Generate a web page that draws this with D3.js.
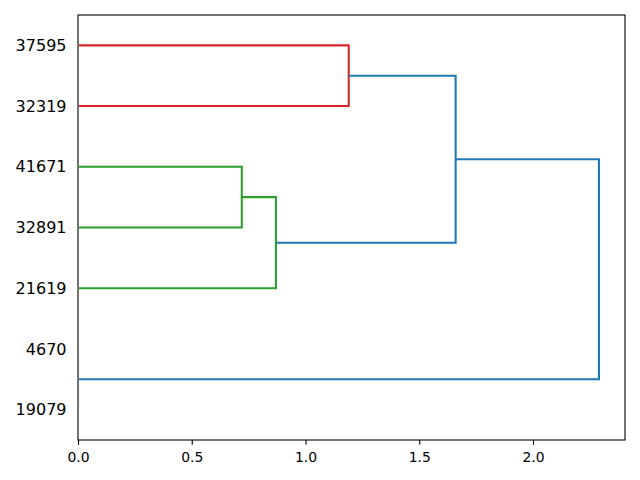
<!DOCTYPE html>
<html><head><meta charset="utf-8">
<script src="https://cdn.jsdelivr.net/npm/d3@7"></script>
<style>body{margin:0;background:#fff}</style>
</head><body>
<svg id="c" width="640" height="480"></svg>
<script>
// leaf labels in dendrogram order (bottom to top)
const leaves = ["19079","4670","21619","32891","41671","32319","37595"];
// merges (scipy linkage style): child A, child B, distance; new cluster ids start at leaves.length
const mergeA = [0, 3, 2, 5, 9, 7];
const mergeB = [1, 4, 8, 6, 10, 11];
const mergeDist = [0.0, 0.72, 0.87, 1.19, 1.66, 2.29];
const mergeColor = ["#1f77b4", "#2ca02c", "#2ca02c", "#d62728", "#1f77b4", "#1f77b4"];
const xTicks = [0, 0.5, 1.0, 1.5, 2.0];

const svg = d3.select("#c");
const L = 78, R = 625, T = 15, B = 440;
const maxD = d3.max(mergeDist);
const x = d3.scaleLinear().domain([0, maxD * 1.05]).range([L, R]);
const y = d3.scaleLinear().domain([0, leaves.length * 10]).range([B, T]);

svg.append("defs").append("clipPath").attr("id", "clip")
  .append("rect").attr("x", L + 1.05).attr("y", T).attr("width", R - L).attr("height", B - T);

// positions
const pos = leaves.map((d, i) => 5 + 10 * i);
const h = leaves.map(() => 0);
mergeA.forEach((a, k) => {
  pos.push((pos[a] + pos[mergeB[k]]) / 2);
  h.push(mergeDist[k]);
});

const g = svg.append("g").attr("clip-path", "url(#clip)");
mergeA.forEach((a, k) => {
  const b = mergeB[k], d = mergeDist[k];
  const pts = [[h[a], pos[a]], [d, pos[a]], [d, pos[b]], [h[b], pos[b]]];
  g.append("path")
    .attr("d", d3.line().x(p => x(p[0])).y(p => y(p[1]))(pts))
    .attr("fill", "none").attr("stroke", mergeColor[k]).attr("stroke-width", 2.08);
});

// x axis
const xa = svg.append("g").attr("transform", `translate(0,${B})`)
  .call(d3.axisBottom(x).tickValues(xTicks).tickFormat(d3.format(".1f")).tickSizeOuter(0).tickSize(4.86).tickPadding(7.5));
xa.select(".domain").remove();
xa.selectAll("line").attr("stroke", "#000").attr("stroke-width", 1.1);
xa.selectAll("text").attr("font-family", "DejaVu Sans").attr("font-size", 13.9).attr("fill", "#000");

// y labels
const ya = svg.append("g").attr("transform", `translate(${L},0)`)
  .call(d3.axisLeft(y).tickValues(pos.slice(0, leaves.length)).tickFormat((d, i) => leaves[i]).tickSize(0).tickPadding(11.5));
ya.select(".domain").remove();
ya.selectAll("text").attr("font-family", "DejaVu Sans").attr("font-size", 16).attr("fill", "#000");

// frame
svg.append("rect").attr("x", L).attr("y", T).attr("width", R - L).attr("height", B - T)
  .attr("fill", "none").attr("stroke", "#000").attr("stroke-width", 1.1);
</script>
</body></html>
